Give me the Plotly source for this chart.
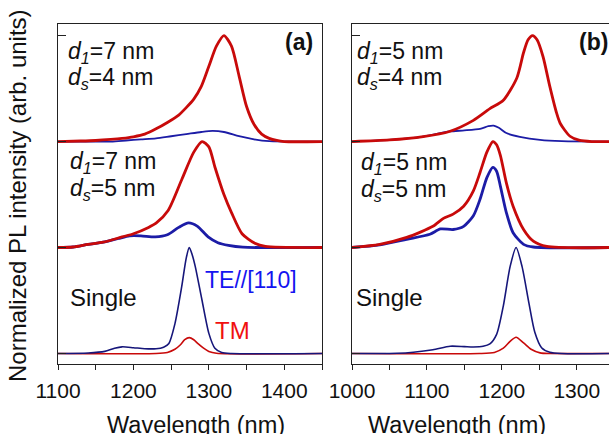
import plotly.graph_objects as go

W, H = 609, 434

# ---------------- data ----------------
# Panel (a): d1 = 7 nm
a_top_TM_wl = [1100, 1130, 1150, 1170, 1185, 1200, 1215, 1230, 1245, 1260, 1270, 1280, 1290, 1300, 1310, 1320, 1330, 1340, 1350, 1360, 1370, 1380, 1390, 1400, 1450]
a_top_TM = [0, 0.005, 0.01, 0.02, 0.03, 0.045, 0.07, 0.12, 0.18, 0.25, 0.32, 0.4, 0.52, 0.71, 0.9, 1.0, 0.9, 0.62, 0.33, 0.16, 0.07, 0.03, 0.01, 0, 0]
a_top_TE_wl = [1100, 1170, 1190, 1210, 1230, 1250, 1270, 1290, 1305, 1320, 1340, 1360, 1380, 1450]
a_top_TE = [0, 0, 0.01, 0.02, 0.03, 0.05, 0.07, 0.09, 0.1, 0.09, 0.05, 0.02, 0.003, 0]

a_mid_TM_wl = [1100, 1120, 1140, 1160, 1185, 1200, 1220, 1230, 1246, 1264, 1280, 1291, 1300, 1308, 1320, 1330, 1344, 1361, 1375, 1450]
a_mid_TM = [0, 0.005, 0.03, 0.05, 0.1, 0.13, 0.19, 0.23, 0.35, 0.64, 0.9, 1.0, 0.95, 0.76, 0.5, 0.33, 0.13, 0.04, 0.01, 0]
a_mid_TE_wl = [1100, 1120, 1140, 1160, 1180, 1195, 1210, 1229, 1245, 1260, 1273, 1285, 1299, 1312, 1326, 1345, 1450]
a_mid_TE = [0, 0.005, 0.03, 0.05, 0.085, 0.11, 0.11, 0.1, 0.12, 0.19, 0.233, 0.2, 0.1, 0.045, 0.02, 0.003, 0]

a_bot_TE_wl = [1100, 1140, 1162, 1175, 1185, 1200, 1215, 1230, 1240, 1247, 1255, 1264, 1270, 1274, 1278, 1282, 1291, 1300, 1308, 1317, 1330, 1450]
a_bot_TE = [0, 0.005, 0.02, 0.05, 0.063, 0.055, 0.045, 0.045, 0.06, 0.095, 0.28, 0.63, 0.9, 1.0, 0.93, 0.82, 0.5, 0.19, 0.05, 0.01, 0, 0]
a_bot_TM_wl = [1100, 1230, 1245, 1255, 1262, 1268, 1274, 1280, 1286, 1293, 1300, 1310, 1450]
a_bot_TM = [0, 0, 0.01, 0.04, 0.08, 0.13, 0.15, 0.13, 0.09, 0.05, 0.02, 0.003, 0]

# Panel (b): d1 = 5 nm
b_top_TM_wl = [1000, 1050, 1095, 1130, 1162, 1184, 1202, 1220, 1229, 1235, 1241, 1247, 1255, 1264, 1273, 1278, 1291, 1304, 1320, 1343]
b_top_TM = [0, 0.015, 0.047, 0.095, 0.2, 0.31, 0.39, 0.6, 0.84, 0.96, 1.0, 0.96, 0.8, 0.52, 0.27, 0.17, 0.05, 0.01, 0, 0]
b_top_TE_wl = [1000, 1050, 1095, 1130, 1150, 1171, 1182, 1189, 1196, 1206, 1224, 1251, 1280, 1343]
b_top_TE = [0, 0.015, 0.047, 0.095, 0.105, 0.12, 0.145, 0.15, 0.13, 0.08, 0.045, 0.015, 0.003, 0]

b_mid_TM_wl = [1000, 1037, 1073, 1108, 1122, 1135, 1149, 1162, 1171, 1180, 1188, 1193, 1198, 1206, 1215, 1229, 1242, 1260, 1343]
b_mid_TM = [0, 0.03, 0.095, 0.2, 0.275, 0.315, 0.39, 0.535, 0.71, 0.9, 1.0, 0.97, 0.87, 0.61, 0.39, 0.17, 0.06, 0.01, 0]
b_mid_TE_wl = [1000, 1037, 1073, 1104, 1118, 1135, 1149, 1162, 1171, 1180, 1188, 1193, 1198, 1206, 1215, 1229, 1242, 1343]
b_mid_TE = [0, 0.025, 0.078, 0.125, 0.175, 0.17, 0.2, 0.3, 0.457, 0.66, 0.757, 0.72, 0.58, 0.33, 0.14, 0.03, 0.005, 0]

b_bot_TE_wl = [1000, 1060, 1082, 1108, 1131, 1150, 1162, 1175, 1184, 1193, 1202, 1211, 1219, 1227, 1236, 1244, 1253, 1264, 1280, 1343]
b_bot_TE = [0, 0.002, 0.012, 0.035, 0.069, 0.065, 0.062, 0.068, 0.09, 0.18, 0.45, 0.82, 1.0, 0.82, 0.48, 0.2, 0.055, 0.012, 0, 0]
b_bot_TM_wl = [1000, 1170, 1190, 1202, 1211, 1219, 1229, 1239, 1251, 1265, 1343]
b_bot_TM = [0, 0, 0.01, 0.05, 0.115, 0.154, 0.1, 0.04, 0.006, 0, 0]

offsets = [0, 1, 2]  # bottom (Single), middle, top
xticks_a = [1100, 1200, 1300, 1400]
xticks_b = [1000, 1100, 1200, 1300]

# ---------------- styling ----------------
RED = "#c80a0a"
BLUE = "#1c1ca6"
NAVY = "#16167a"
FONT = "Liberation Sans, Arial, sans-serif"

def px(x):
    return x / W

def py(y):
    return 1 - y / H

fig = go.Figure()

def add(xa, ya, wl, vals, off, color, width):
    fig.add_trace(go.Scatter(
        x=wl, y=[v + off for v in vals], mode="lines",
        line=dict(color=color, width=width, shape="spline", smoothing=0.7),
        xaxis=xa, yaxis=ya, showlegend=False, hoverinfo="skip"))

# panel (a)
add("x", "y", a_top_TE_wl, a_top_TE, offsets[2], BLUE, 1.8)
add("x", "y", a_top_TM_wl, a_top_TM, offsets[2], RED, 2.8)
add("x", "y", a_mid_TE_wl, a_mid_TE, offsets[1], BLUE, 2.8)
add("x", "y", a_mid_TM_wl, a_mid_TM, offsets[1], RED, 2.8)
add("x", "y", a_bot_TM_wl, a_bot_TM, offsets[0], RED, 1.6)
add("x", "y", a_bot_TE_wl, a_bot_TE, offsets[0], NAVY, 1.6)
# panel (b)
add("x2", "y2", b_top_TE_wl, b_top_TE, offsets[2], BLUE, 1.8)
add("x2", "y2", b_top_TM_wl, b_top_TM, offsets[2], RED, 2.8)
add("x2", "y2", b_mid_TE_wl, b_mid_TE, offsets[1], BLUE, 2.8)
add("x2", "y2", b_mid_TM_wl, b_mid_TM, offsets[1], RED, 2.8)
add("x2", "y2", b_bot_TM_wl, b_bot_TM, offsets[0], RED, 1.6)
add("x2", "y2", b_bot_TE_wl, b_bot_TE, offsets[0], NAVY, 1.6)

ydom = [py(364), py(24)]
yrange = [-0.099, 3.109]

xcommon = dict(showgrid=False, zeroline=False, showline=True, linecolor="#222", linewidth=1.4,
               ticks="outside", ticklen=5, tickwidth=1.2, tickcolor="#222", automargin=False,
               ticklabelstandoff=3,
               tickfont=dict(family=FONT, size=21, color="#111"),
               minor=dict(ticks="outside", ticklen=5, tickwidth=1.2, tickcolor="#222", dtick=50, showgrid=False))
ycommon = dict(showgrid=False, zeroline=False, showline=True, linecolor="#222", linewidth=1.4,
               ticks="inside", ticklen=8, tickwidth=1.2, tickcolor="#222", automargin=False,
               tickvals=[0, 1, 2, 3], showticklabels=False, range=yrange, domain=ydom)

fig.update_layout(
    width=W, height=H, margin=dict(l=0, r=0, t=0, b=0, pad=0, autoexpand=False),
    paper_bgcolor="white", plot_bgcolor="white",
    xaxis=dict(domain=[px(58), px(322)], range=[1100, 1450], tickvals=xticks_a,
               mirror=True, anchor="y", **xcommon),
    yaxis=dict(anchor="x", mirror=True, **ycommon),
    xaxis2=dict(domain=[px(352), 1.0], range=[1000, 1343], tickvals=xticks_b,
                mirror=True, anchor="y2", **xcommon),
    yaxis2=dict(anchor="x2", mirror=False, **ycommon),
)

def ann(text, x, y, size=22, color="#111", xanchor="left", bold=False, angle=0):
    if bold:
        text = "<b>" + text + "</b>"
    fig.add_annotation(text=text, x=px(x), y=py(y), xref="paper", yref="paper",
                       xanchor=xanchor, yanchor="middle", showarrow=False, textangle=angle,
                       font=dict(family=FONT, size=size, color=color))

d1 = "<i>d</i><sub><i>1</i></sub>"
ds = "<i>d</i><sub><i>s</i></sub>"
ann(d1 + "=7 nm", 66, 52, size=23)
ann(ds + "=4 nm", 66, 79, size=23)
ann(d1 + "=7 nm", 68, 162, size=23)
ann(ds + "=5 nm", 68, 189, size=23)
ann("Single", 68, 297, size=24)
ann("TE//[110]", 203, 280, size=23, color="#1414f0")
ann("TM", 213, 330, size=24, color="#f01010")
ann("(a)", 299, 42, size=23, xanchor="center", bold=True)

ann(d1 + "=5 nm", 355, 52, size=23)
ann(ds + "=4 nm", 355, 79, size=23)
ann(d1 + "=5 nm", 359, 164, size=23)
ann(ds + "=5 nm", 359, 191, size=23)
ann("Single", 354, 297, size=24)
ann("(b)", 593, 42, size=23, xanchor="center", bold=True)

ann("Normalized PL intensity (arb. units)", 17, 196, size=24, xanchor="center", angle=-90)
ann("Wavelength (nm)", 196, 425, size=23.5, xanchor="center")
ann("Wavelength (nm)", 457, 425, size=23.5, xanchor="center")

fig.write_html("out.html", config={"displayModeBar": False},
               post_script="document.body.style.margin='0';document.body.style.overflow='hidden';")
